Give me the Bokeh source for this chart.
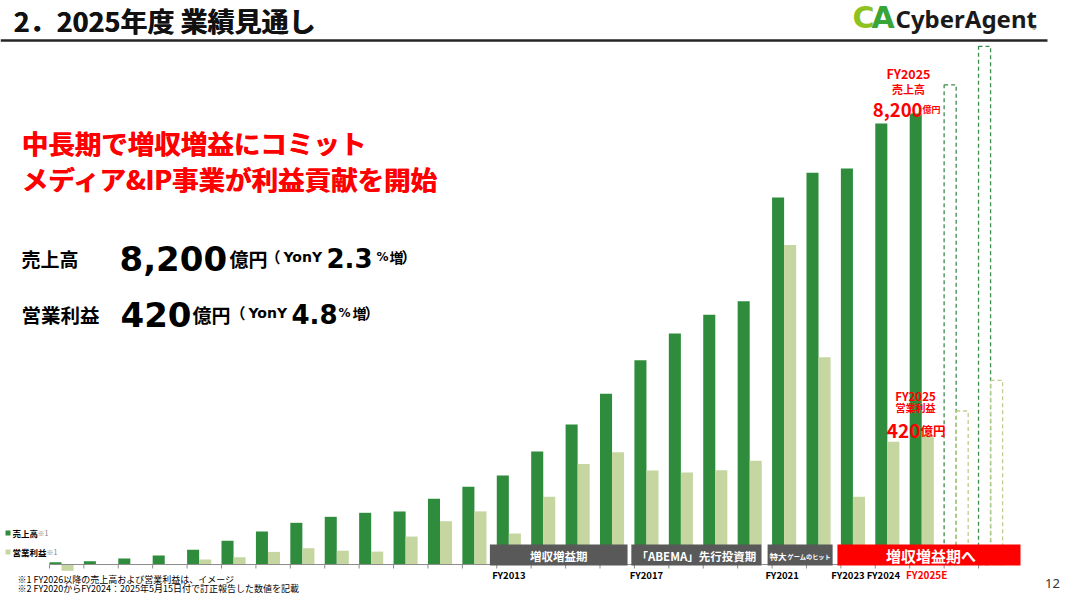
from bokeh.plotting import figure
from bokeh.models import Range1d, ColumnDataSource
from bokeh.transform import dodge
from bokeh.core.properties import value
from bokeh.embed import file_html
from bokeh.resources import INLINE

# ---------------- data ----------------
years = list(range(2000, 2026))
sales = [40, 60, 109, 164, 267, 431, 600, 758, 867, 940, 964, 1195, 1413, 1618,
         2055, 2545, 3104, 3715, 4200, 4540, 4787, 6673, 7122, 7200, 8018, 8200]
profit = [-20, 1, -2, 2, 16, 24, 41, 53, 45, 42, 91, 141, 173, 101,
          221, 327, 366, 306, 300, 307, 338, 1041, 675, 221, 400, 420]
future_years = [2026, 2027]
future_sales = [8720, 9420]
future_profit = [500, 600]
tick_years = [2013, 2017, 2021, 2023, 2024, 2025]
tick_labels = ["FY2013", "FY2017", "FY2021", "FY2023", "FY2024", "FY2025E"]
periods = ["増収増益期", "「ABEMA」先行投資期", "特大ゲームのヒット", "増収増益期へ"]
period_start = [2012.45, 2016.56, 2020.52, 2022.55]
period_end = [2016.45, 2020.34, 2022.41, 2027.87]

GREEN = "#2e8c3c"
LIGHT = "#c5d6a0"
RED = "#ff0000"
JP = "Noto Sans CJK JP"
DV = "DejaVu Sans"

W, H = 1073, 594
p = figure(width=W, height=H, output_backend="svg", toolbar_location=None,
           x_range=Range1d(1998.2273, 2029.4101), y_range=Range1d(-545.45, 10254.5),
           x_axis_location=None, y_axis_location=None, min_border=0,
           outline_line_color=None, background_fill_color="white",
           border_fill_color="white")
p.extra_y_ranges = {"profit": Range1d(-97.72, 1837.13), "py": Range1d(594, 0)}
p.extra_x_ranges = {"px": Range1d(0, 1073)}
p.grid.visible = False


def T(x, y, s, size, color="black", font=JP, style="bold", align="left",
      baseline="middle", xr="px", yr="py", xoff=0):
    p.text(x=[x], y=[y], text=[s], text_font=value(font),
           text_font_size=f"{size}px", text_color=color, text_font_style=style,
           text_align=align, text_baseline=baseline, x_offset=xoff,
           x_range_name=xr, y_range_name=yr)


# ---------------- bars ----------------
src = ColumnDataSource(dict(year=years, sales=sales, profit=profit))
p.vbar(x=dodge("year", -0.175), top="sales", bottom=0, width=0.35, source=src,
       fill_color=GREEN, line_color=None)
p.vbar(x=dodge("year", 0.175), top="profit", bottom=0, width=0.35, source=src,
       fill_color=LIGHT, line_color=None, y_range_name="profit")

fsrc = ColumnDataSource(dict(year=future_years, sales=future_sales, profit=future_profit))
p.vbar(x=dodge("year", -0.175), top="sales", bottom=0, width=0.35, source=fsrc,
       fill_color=None, line_color="#3d8c4e", line_dash="4 3", line_width=1.3)
p.vbar(x=dodge("year", 0.175), top="profit", bottom=0, width=0.35, source=fsrc,
       fill_color=None, line_color="#bccf8c", line_dash="4 3", line_width=1.3,
       y_range_name="profit")

# axis line and ticks
p.segment(x0=[years[0] - 0.35], x1=[future_years[-1] - 0.35 + 1], y0=[0], y1=[0],
          line_color="#8c8c8c", line_width=1)
all_years = years + future_years
p.segment(x0=[y - 0.35 for y in all_years], x1=[y - 0.35 for y in all_years],
          y0=[564] * len(all_years), y1=[568] * len(all_years),
          line_color="#8c8c8c", line_width=1, y_range_name="py")

# period boxes
box_colors = ["#595959", "#595959", "#595959", RED]
p.quad(left=period_start, right=period_end, bottom=[565] * 4, top=[544] * 4,
       fill_color=box_colors, line_color=None, y_range_name="py")
T((period_start[0] + period_end[0]) / 2, 555, periods[0], 11.5, color="white",
  align="center", xr="default")
T((period_start[1] + period_end[1]) / 2, 555, periods[1], 11.5, color="white",
  align="center", xr="default")
T(period_start[2], 555, periods[2][:2], 8.5, color="white", xr="default", xoff=2)
T(period_start[2], 555.5, periods[2][2:], 6.2, color="white", xr="default", xoff=20)
T((period_start[3] + period_end[3]) / 2, 555, periods[3], 15, color="white",
  align="center", xr="default", xoff=2)

# category labels
offs = [0, 0, -2, -5, -4, 5]
for yv, lab, o in zip(tick_years, tick_labels, offs):
    col = RED if lab.endswith("E") else "black"
    T(yv, 574, lab, 10 if lab.endswith("E") else 9.5, color=col, align="center",
      xr="default", xoff=o)

# ---------------- header ----------------
for dx in (0, 0.6):
    T(13 + dx, 20, "2．2025年度 業績見通し", 27, color="#111111")
p.segment(x0=[0], x1=[1047], y0=[40], y1=[40], line_color="#262626", line_width=2.5,
          x_range_name="px", y_range_name="py")
# logo
T(852, 17, "C", 30, color="#8dc21f", font=DV, style="bold")
T(871, 17, "A", 30, color="#3aa537", font=DV, style="bold")
T(895, 18, "CyberAgent", 24, color="#1a1a1a", font="Noto Sans", style="bold")
T(1031, 27, "®", 6, color="#333333", font="Noto Sans", style="normal")

# ---------------- headline ----------------
for dx in (0, 0.8):
    T(21 + dx, 142, "中長期で増収増益にコミット", 26.5, color=RED)
    T(21 + dx, 178, "メディア&IP事業が利益貢献を開始", 26.5, color=RED)

# KPI lines
T(21, 258, "売上高", 19, baseline="alphabetic")
T(119, 258, "8,200", 34, font=DV, baseline="alphabetic")
T(229, 258, "億円", 19, baseline="alphabetic")
T(265, 256, "（", 15, baseline="alphabetic")
T(283, 256, "YonY", 14, font=DV, baseline="alphabetic")
T(326, 257, "2.3", 26, font=DV, baseline="alphabetic")
T(376, 256, "%", 12, font=DV, baseline="alphabetic")
T(389, 256, "増", 14, baseline="alphabetic")
T(401, 256, "）", 15, baseline="alphabetic")

T(21, 314, "営業利益", 19.5, baseline="alphabetic")
T(120, 314, "420", 34, font=DV, baseline="alphabetic")
T(192, 314, "億円", 19, baseline="alphabetic")
T(230, 312, "（", 15, baseline="alphabetic")
T(248, 312, "YonY", 14, font=DV, baseline="alphabetic")
T(291, 313, "4.8", 26, font=DV, baseline="alphabetic")
T(338, 312, "%", 12, font=DV, baseline="alphabetic")
T(352, 312, "増", 14, baseline="alphabetic")
T(364, 312, "）", 15, baseline="alphabetic")

# ---------------- annotations ----------------
T(908, 73, "FY2025", 12.5, color=RED, align="center")
T(908, 88, "売上高", 11, color=RED, align="center")
T(922, 109, "8,200", 18.5, color=RED, align="right", baseline="alphabetic")
T(922, 109, "億円", 9, color=RED, baseline="alphabetic")

T(915, 395, "FY2025", 11.5, color=RED, align="center")
T(915, 407, "営業利益", 10, color=RED, align="center")
T(920, 430, "420", 19, color=RED, align="right", baseline="alphabetic")
T(920, 430, "億円", 12.5, color=RED, baseline="alphabetic")

# ---------------- legend ----------------
p.quad(left=[5, 5], right=[10, 10], top=[530, 549], bottom=[535, 554],
       fill_color=[GREEN, LIGHT], line_color=None, x_range_name="px", y_range_name="py")
T(12, 532, "売上高", 8.5)
T(37, 532, "※1", 7, color="#7f7f7f", style="normal")
T(12, 551, "営業利益", 8.5)
T(46, 551, "※1", 7, color="#7f7f7f", style="normal")

# ---------------- footnotes ----------------
T(17, 578.5, "※1  FY2026以降の売上高および営業利益は、イメージ", 9, style="normal")
T(17, 587.5, "※2  FY2020からFY2024：2025年5月15日付で訂正報告した数値を記載", 9, style="normal")
T(1052, 583, "12", 13, color="#333333", font="Noto Sans", style="normal", align="center")

open("out.html", "w").write(file_html(p, INLINE))
